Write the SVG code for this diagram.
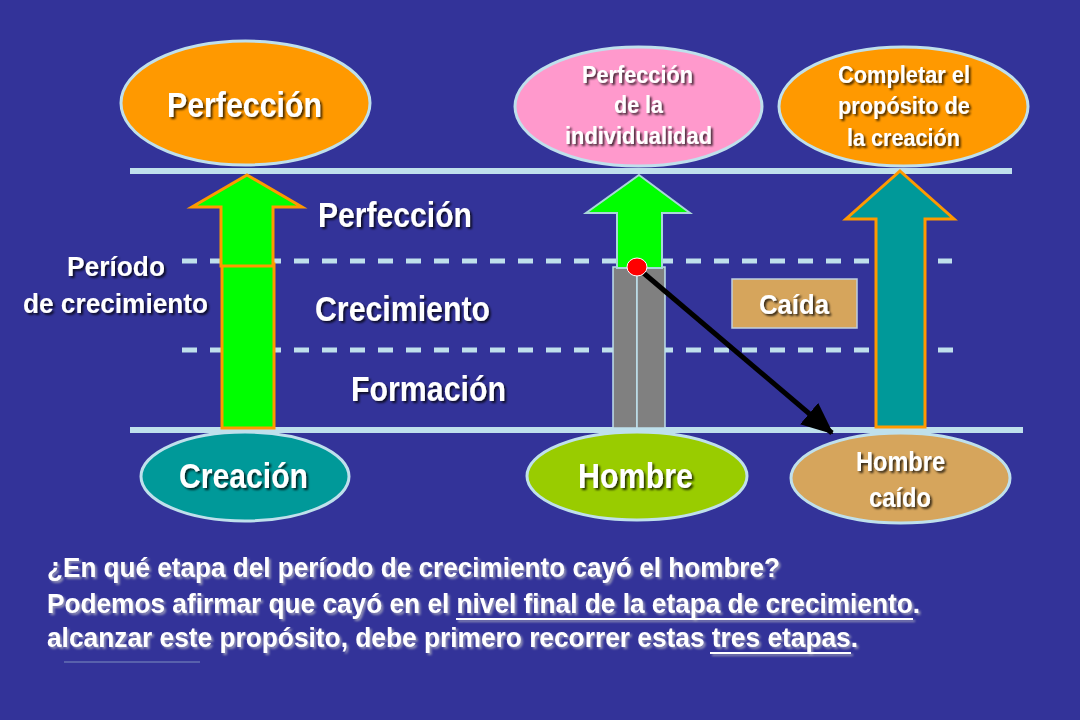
<svg xmlns="http://www.w3.org/2000/svg" width="1080" height="720" viewBox="0 0 1080 720">
<defs>
<style>
.t{font-family:"Liberation Sans Narrow","Arial Narrow","Liberation Sans",Arial,sans-serif;font-weight:bold;fill:#ffffff;text-anchor:middle;filter:url(#sh)}
.b{font-family:"Liberation Sans Narrow","Arial Narrow","Liberation Sans",Arial,sans-serif;font-weight:bold;fill:#ffffff;font-size:28px;filter:url(#sh2)}
.ul{fill:#ffffff;filter:url(#sh3)}
.ell{stroke:#bfe0ec;stroke-width:3}
.solid{stroke:#bfe0ec;stroke-width:6;fill:none}
.dash{stroke:#bfe0ec;stroke-width:5;stroke-dasharray:15 13;fill:none}
</style>
<filter id="sh" x="-10%" y="-20%" width="130%" height="150%">
<feDropShadow dx="2" dy="2" stdDeviation="1" flood-color="#000000" flood-opacity="0.75"/>
</filter>
<filter id="sh2" x="-5%" y="-20%" width="110%" height="150%">
<feDropShadow dx="2" dy="2" stdDeviation="1.2" flood-color="#9a9ab8" flood-opacity="0.9"/>
</filter>
<filter id="sh3" filterUnits="userSpaceOnUse" x="400" y="600" width="560" height="70">
<feDropShadow dx="2" dy="2" stdDeviation="1" flood-color="#9a9ab8" flood-opacity="0.9"/>
</filter>
<marker id="ah" markerUnits="userSpaceOnUse" markerWidth="32" markerHeight="28" refX="30" refY="14" orient="auto">
<path d="M0,0 L32,14 L0,28 Z" fill="#000000"/>
</marker>
</defs>
<rect x="0" y="0" width="1080" height="720" fill="#333399"/>

<g id="levels">
<line class="solid" x1="130" y1="171" x2="1012" y2="171"/>
<line class="dash" x1="182" y1="261" x2="952" y2="261"/>
<line class="dash" x1="182" y1="350" x2="955" y2="350"/>
<line class="solid" x1="130" y1="430" x2="1023" y2="430"/>
</g>

<g id="arrow-left">
<rect x="222" y="264" width="52" height="164" fill="#00ff00" stroke="#ff9900" stroke-width="3"/>
<path d="M247,175 L302,207 L273,207 L273,266 L221,266 L221,207 L192,207 Z" fill="#00ff00" stroke="#ff9900" stroke-width="3" stroke-linejoin="miter"/>
</g>

<g id="column-middle">
<rect x="613" y="267" width="24" height="161" fill="#808080" stroke="#bfe0ec" stroke-width="1.5"/>
<rect x="637" y="267" width="28" height="161" fill="#808080" stroke="#bfe0ec" stroke-width="1.5"/>
<path d="M639,175 L690,213 L662,213 L662,268 L617,268 L617,213 L586,213 Z" fill="#00ff00" stroke="#a8d8d8" stroke-width="2"/>
</g>

<g id="arrow-right">
<path d="M900,171 L954,219 L925,219 L925,427 L876,427 L876,219 L846,219 Z" fill="#009999" stroke="#ff9900" stroke-width="3"/>
</g>

<g id="connectors">
<line x1="640" y1="270" x2="832" y2="433" stroke="#000000" stroke-width="5" marker-end="url(#ah)"/>
</g>

<g id="fall-point">
<ellipse cx="637" cy="267" rx="10" ry="9" fill="#ff0000" stroke="#ffffff" stroke-width="1"/>
</g>

<g id="node-perfeccion">
<ellipse class="ell" cx="245.5" cy="103" rx="124.5" ry="62" fill="#ff9900"/>
<text class="t" x="244.5" y="117" font-size="35" textLength="155" lengthAdjust="spacingAndGlyphs">Perfección</text>
</g>

<g id="node-perfeccion-individualidad">
<ellipse class="ell" cx="638.5" cy="106.5" rx="123.5" ry="59.5" fill="#ff99cc"/>
<text class="t" x="637.5" y="83" font-size="23" textLength="111" lengthAdjust="spacingAndGlyphs">Perfección</text>
<text class="t" x="638.5" y="113" font-size="23" textLength="49" lengthAdjust="spacingAndGlyphs">de la</text>
<text class="t" x="638.5" y="144" font-size="23" textLength="147" lengthAdjust="spacingAndGlyphs">individualidad</text>
</g>

<g id="node-completar">
<ellipse class="ell" cx="903.5" cy="106.5" rx="124.5" ry="59.5" fill="#ff9900"/>
<text class="t" x="904" y="83" font-size="23" textLength="132" lengthAdjust="spacingAndGlyphs">Completar el</text>
<text class="t" x="904" y="114" font-size="23" textLength="132" lengthAdjust="spacingAndGlyphs">propósito de</text>
<text class="t" x="903.5" y="146" font-size="23" textLength="113" lengthAdjust="spacingAndGlyphs">la creación</text>
</g>

<g id="label-perfeccion">
<text class="t" x="395" y="227" font-size="35" textLength="154" lengthAdjust="spacingAndGlyphs">Perfección</text>
</g>
<g id="label-crecimiento">
<text class="t" x="402.5" y="321" font-size="35" textLength="175" lengthAdjust="spacingAndGlyphs">Crecimiento</text>
</g>
<g id="label-formacion">
<text class="t" x="428.5" y="401" font-size="35" textLength="155" lengthAdjust="spacingAndGlyphs">Formación</text>
</g>
<g id="label-periodo">
<text class="t" x="116" y="276" font-size="27" textLength="98" lengthAdjust="spacingAndGlyphs">Período</text>
<text class="t" x="115.5" y="313" font-size="27" textLength="185" lengthAdjust="spacingAndGlyphs">de crecimiento</text>
</g>

<g id="node-caida">
<rect x="732" y="279" width="125" height="49" fill="#d6a55c" stroke="#bfcfe0" stroke-width="1.5"/>
<text class="t" x="794" y="314" font-size="27" textLength="70" lengthAdjust="spacingAndGlyphs">Caída</text>
</g>

<g id="node-creacion">
<ellipse class="ell" cx="245" cy="476.5" rx="104" ry="44.5" fill="#009999"/>
<text class="t" x="243.5" y="488" font-size="35" textLength="129" lengthAdjust="spacingAndGlyphs">Creación</text>
</g>

<g id="node-hombre">
<ellipse class="ell" cx="637" cy="476" rx="110" ry="44" fill="#99cc00"/>
<text class="t" x="635.5" y="488" font-size="35" textLength="115" lengthAdjust="spacingAndGlyphs">Hombre</text>
</g>

<g id="node-hombre-caido">
<ellipse class="ell" cx="900.5" cy="478" rx="109.5" ry="45" fill="#d6a55c"/>
<text class="t" x="900.5" y="471" font-size="27" textLength="89" lengthAdjust="spacingAndGlyphs">Hombre</text>
<text class="t" x="900" y="507" font-size="27" textLength="62" lengthAdjust="spacingAndGlyphs">caído</text>
</g>

<g id="bottom-text">
<text class="b" x="47" y="577" textLength="733" lengthAdjust="spacingAndGlyphs">¿En qué etapa del período de crecimiento cayó el hombre?</text>
<text class="b" x="47" y="613" textLength="873" lengthAdjust="spacingAndGlyphs">Podemos afirmar que cayó en el nivel final de la etapa de crecimiento.</text>
<text class="b" x="47" y="647" textLength="811" lengthAdjust="spacingAndGlyphs">alcanzar este propósito, debe primero recorrer estas tres etapas.</text>
<rect class="ul" x="456" y="618" width="457" height="2"/>
<rect class="ul" x="710" y="652" width="141" height="2"/>
<rect x="64" y="661.5" width="136" height="1" fill="#7f8fc0"/>
</g>
</svg>
